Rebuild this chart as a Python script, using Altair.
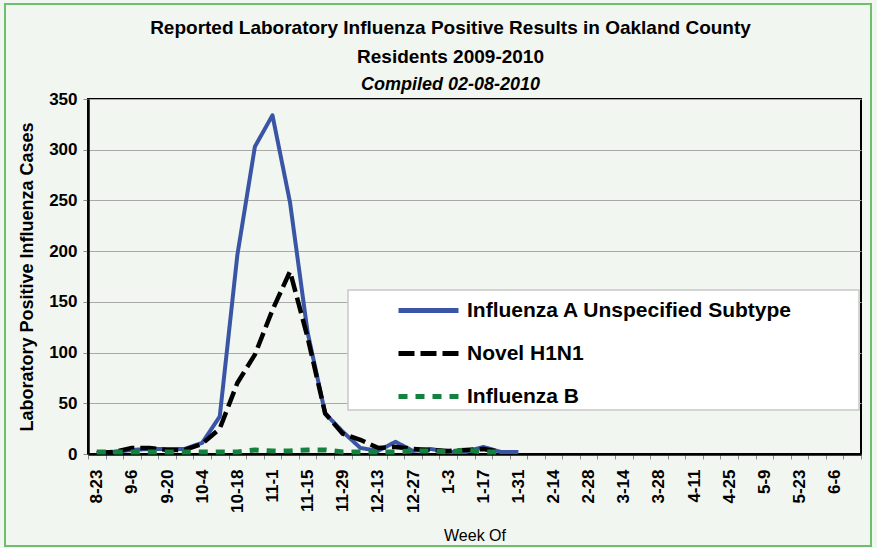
import json
import altair as alt
import pandas as pd

# ---- data ----
weeks = ["8-23", "8-30", "9-6", "9-13", "9-20", "9-27", "10-4", "10-11", "10-18", "10-25",
         "11-1", "11-8", "11-15", "11-22", "11-29", "12-6", "12-13", "12-20", "12-27", "12-31",
         "1-3", "1-10", "1-17", "1-24", "1-31", "2-7", "2-14", "2-21", "2-28", "3-7",
         "3-14", "3-21", "3-28", "4-4", "4-11", "4-18", "4-25", "5-2", "5-9", "5-16",
         "5-23", "5-30", "6-6", "6-13"]
shown_labels = weeks[::2]

flu_a = [1, 2, 4, 5, 5, 5, 11, 37, 196, 303, 334, 248, 120, 40, 22, 6, 3, 12, 3, 5,
         2, 2, 7, 2, 2]
h1n1 = [1, 2, 6, 6, 4, 4, 10, 25, 70, 98, 142, 180, 115, 40, 20, 14, 6, 7, 5, 4,
        3, 4, 5, 2]
flu_b = [2, 2, 2, 2, 2, 2, 2, 2, 2, 4, 3, 3, 4, 4, 2, 2, 2, 2, 3, 3,
         2, 4, 2, 2]

series_names = ["Influenza A Unspecified Subtype", "Novel H1N1", "Influenza B"]
series_colors = ["#3A55A6", "#000000", "#14823E"]
series_dashes = [[1, 0], [16, 6], [9, 8]]
series_widths = [4, 4.5, 5]

rows = []
for name, vals in zip(series_names, [flu_a, h1n1, flu_b]):
    for w, v in zip(weeks, vals):
        rows.append({"week": w, "cases": v, "series": name})
df = pd.DataFrame(rows)

FONT = "Liberation Sans"
BG = "#F2F6F0"

label_expr = f"indexof({json.dumps(shown_labels)}, datum.value) >= 0 ? datum.label : ''"

x_enc = alt.X(
    "week:N",
    sort=weeks,
    scale=alt.Scale(type="band", domain=weeks, paddingInner=0, paddingOuter=0),
    axis=alt.Axis(
        title="Week Of",
        labelAngle=-90,
        labelAlign="right",
        labelBaseline="middle",
        labelExpr=label_expr,
        labelFont=FONT,
        labelFontSize=17,
        labelFontWeight="bold",
        labelColor="black",
        labelPadding=10,
        labelOverlap=False,
        tickBand="extent",
        tickSize=5,
        tickColor="#8C8C8C",
        domainColor="black",
        domainWidth=2.5,
        titleFont=FONT,
        titleFontSize=16,
        titleFontWeight="normal",
        titleColor="black",
        titlePadding=15,
        grid=False,
    ),
)

y_enc = alt.Y(
    "cases:Q",
    scale=alt.Scale(domain=[0, 350], nice=False),
    axis=alt.Axis(
        title="Laboratory Positive Influenza Cases",
        values=list(range(0, 351, 50)),
        labelFont=FONT,
        labelFontSize=17,
        labelFontWeight="bold",
        labelColor="black",
        labelPadding=6,
        tickSize=5,
        tickColor="#8C8C8C",
        domainColor="black",
        domainWidth=2.5,
        gridColor="#A9A9A9",
        gridWidth=1,
        titleFont=FONT,
        titleFontSize=18,
        titleFontWeight="bold",
        titleColor="black",
        titlePadding=12,
    ),
)

color_enc = alt.Color(
    "series:N",
    scale=alt.Scale(domain=series_names, range=series_colors),
    legend=alt.Legend(
        title=None,
        orient="none",
        legendX=308,
        legendY=179,
        symbolType="stroke",
        symbolSize=3600,
        symbolStrokeWidth=5,
        labelFont=FONT,
        labelFontSize=21,
        labelFontWeight="bold",
        labelColor="black",
        labelOffset=6,
        rowPadding=0,
        padding=0,
        labelLimit=500,
    ),
)
dash_enc = alt.StrokeDash(
    "series:N",
    scale=alt.Scale(domain=series_names, range=series_dashes),
    legend=alt.Legend(title=None),
)

base = alt.Chart(df)

line_layers = []
for name, sw in zip(series_names, series_widths):
    line_layers.append(
        base.transform_filter(alt.datum.series == name)
        .mark_line(strokeWidth=sw, strokeJoin="round", strokeCap="butt")
        .encode(x=x_enc, y=y_enc, color=color_enc, strokeDash=dash_enc)
    )

one = pd.DataFrame({"k": [0]})
frame = alt.Chart(one).mark_rect(filled=False, stroke="#6DBE6D", strokeWidth=2).encode(
    x=alt.value(-83), x2=alt.value(783), y=alt.value(-95), y2=alt.value(447)
)
legend_box = alt.Chart(one).mark_rect(fill="white", stroke="#C8C8C8", strokeWidth=1.5).encode(
    x=alt.value(260), x2=alt.value(771), y=alt.value(191), y2=alt.value(311)
)

chart = (
    alt.layer(frame, *line_layers, legend_box)
    .properties(
        width=773,
        height=355,
        background=BG,
        padding={"left": 88, "top": 99, "right": 16, "bottom": 94},
        autosize=alt.AutoSizeParams(type="none"),
        title=alt.TitleParams(
            text=["Reported Laboratory Influenza Positive Results in Oakland County",
                  "Residents 2009-2010"],
            subtitle="Compiled 02-08-2010",
            font=FONT,
            fontSize=19,
            fontWeight="bold",
            color="black",
            lineHeight=29,
            subtitleFont=FONT,
            subtitleFontSize=18,
            subtitleFontWeight="bold",
            subtitleFontStyle="italic",
            subtitleColor="black",
            subtitlePadding=9,
            anchor="middle",
            frame="group",
            dx=-24,
            dy=96,
            offset=5,
        ),
    )
    .configure_view(stroke="black", strokeWidth=2, fill=BG)
)

chart.save("out.html", embed_options={"renderer": "svg", "actions": False})
